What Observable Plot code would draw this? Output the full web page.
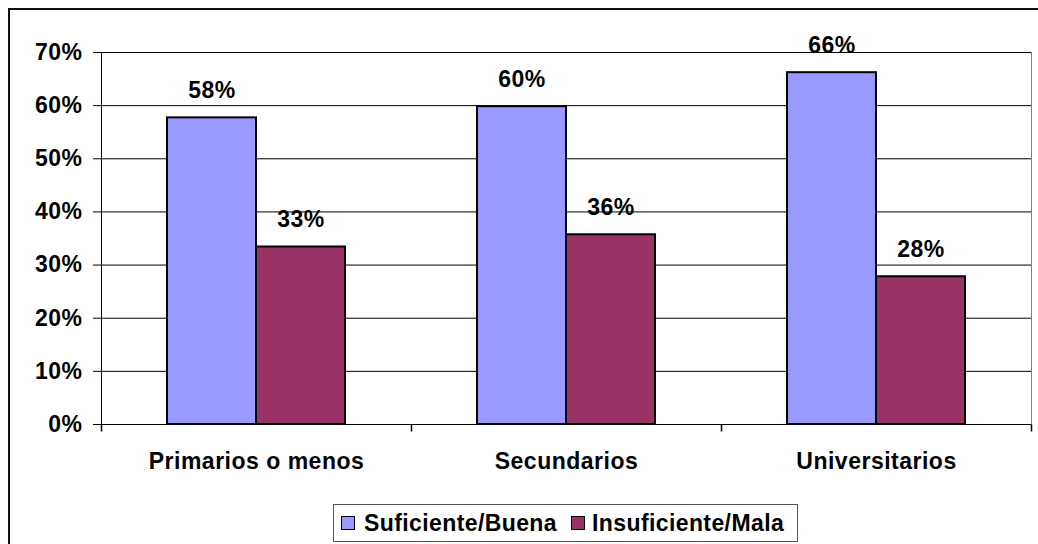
<!DOCTYPE html>
<html><head><meta charset="utf-8">
<script src="https://cdn.jsdelivr.net/npm/d3@7"></script>
<script src="https://cdn.jsdelivr.net/npm/@observablehq/plot@0.6"></script>
<style>
html,body{margin:0;padding:0;background:#fff;overflow:hidden;}
#wrap{position:relative;width:1038px;height:544px;font-family:"Liberation Sans",Arial,sans-serif;font-weight:bold;color:#000;}
#border{position:absolute;left:8px;top:8px;width:1040px;height:545px;border:2px solid #111;box-sizing:border-box;pointer-events:none}
#chart{position:absolute;left:0;top:0}
#legend{position:absolute;left:333px;top:504px;width:465px;height:38px;box-sizing:border-box;border:1px solid #555;display:flex;align-items:center;font-size:23px;letter-spacing:0.4px;padding-left:7px;white-space:nowrap;}
.sw{width:14px;height:14px;box-sizing:border-box;border:1.5px solid #000;display:inline-block;flex:none;}
</style></head>
<body>
<div id="wrap"><div id="chart"></div><div id="legend"></div><div id="border"></div></div>
<script>
const categories = ["Primarios o menos", "Secundarios", "Universitarios"];
const seriesNames = ["Suficiente/Buena", "Insuficiente/Mala"];
const suficiente = [0.577, 0.598, 0.662];
const insuficiente = [0.334, 0.357, 0.278];
const yTicks = [0, 0.1, 0.2, 0.3, 0.4, 0.5, 0.6, 0.7];
const seriesColors = ["#9999FF", "#993366"];

const rows = categories.flatMap((c, i) => [
  {cat: c, series: seriesNames[0], value: suficiente[i]},
  {cat: c, series: seriesNames[1], value: insuficiente[i]}
]);
const pct = d3.format(".0%");
const tickSym = {draw(ctx) { ctx.moveTo(0, 0); ctx.lineTo(0, 7); }};

const chart = Plot.plot({
  width: 1038, height: 490,
  marginTop: 52, marginBottom: 66, marginLeft: 100, marginRight: 7,
  style: {fontFamily: "'Liberation Sans', Arial, sans-serif", fontWeight: "bold", fontSize: "23px", letterSpacing: "0.5px", color: "#000", background: "transparent", overflow: "visible"},
  fx: {domain: categories, padding: 0, label: null},
  x: {domain: seriesNames, paddingInner: 0, paddingOuter: 0.733, axis: null},
  y: {domain: [0, 0.7], label: null},
  color: {domain: seriesNames, range: seriesColors},
  marks: [
    Plot.gridY(yTicks.filter(v => v > 0), {stroke: "#000", strokeOpacity: 1}),
    Plot.frame({anchor: "right", stroke: "#808080", fx: () => categories[2]}),
    Plot.barY(rows, {fx: "cat", x: "series", y: "value", fill: "series", stroke: "#000", strokeWidth: 2}),
    Plot.ruleY([0], {stroke: "#000"}),
    Plot.frame({anchor: "left", stroke: "#000", fx: () => categories[0]}),
    Plot.dot([0], {frameAnchor: "bottom-left", symbol: tickSym, stroke: "#000", fill: "none"}),
    Plot.dot([0], {frameAnchor: "bottom-right", symbol: tickSym, stroke: "#000", fill: "none", fx: () => categories[2]}),
    Plot.text(rows, {fx: "cat", x: "series", y: "value", text: d => pct(d.value), dy: -27, fontSize: 23, fontWeight: "bold", fill: "#000"}),
    Plot.axisY({ticks: yTicks, tickFormat: pct, tickSize: 8, tickPadding: 11, fontSize: 23, fontWeight: "bold", label: null}),
    Plot.axisFx({anchor: "bottom", tickSize: 0, tickPadding: 28, fontSize: 23, fontWeight: "bold", label: null})
  ]
});
document.getElementById("chart").appendChild(chart);

const legend = document.getElementById("legend");
seriesNames.forEach((name, i) => {
  const sw = document.createElement("span");
  sw.className = "sw";
  sw.style.background = seriesColors[i];
  sw.style.marginLeft = i === 0 ? "0px" : "14px";
  sw.style.marginRight = i === 0 ? "9px" : "7px";
  const t = document.createElement("span");
  t.textContent = name;
  legend.appendChild(sw);
  legend.appendChild(t);
});
</script>
</body></html>
